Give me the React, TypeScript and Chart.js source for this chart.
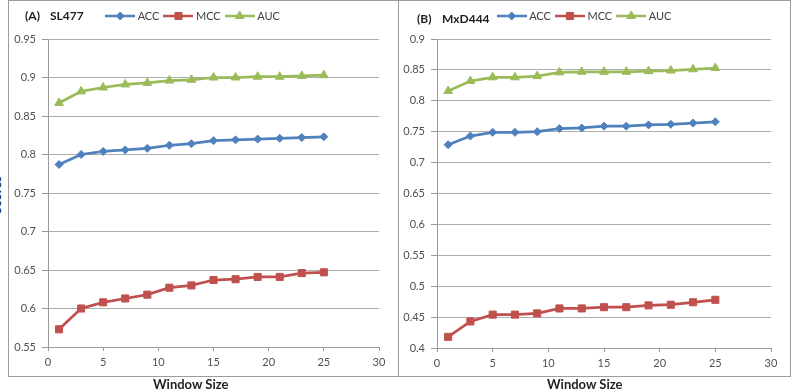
import React, { useEffect, useRef } from 'react';
import { Chart, registerables } from 'chart.js';

Chart.register(...registerables);

// Window sizes evaluated (x axis)
const windowSizes = [1, 3, 5, 7, 9, 11, 13, 15, 17, 19, 21, 23, 25];

// (A) SL477
const accSL477 = [0.787, 0.800, 0.804, 0.806, 0.808, 0.812, 0.814, 0.818, 0.819, 0.820, 0.821, 0.822, 0.823];
const mccSL477 = [0.573, 0.600, 0.608, 0.613, 0.618, 0.627, 0.630, 0.637, 0.638, 0.641, 0.641, 0.646, 0.647];
const aucSL477 = [0.867, 0.882, 0.887, 0.891, 0.893, 0.896, 0.897, 0.900, 0.900, 0.901, 0.901, 0.902, 0.903];

// (B) MxD444
const accMxD444 = [0.729, 0.743, 0.749, 0.749, 0.750, 0.755, 0.756, 0.759, 0.759, 0.761, 0.762, 0.764, 0.766];
const mccMxD444 = [0.418, 0.443, 0.454, 0.454, 0.456, 0.464, 0.464, 0.466, 0.466, 0.469, 0.470, 0.474, 0.478];
const aucMxD444 = [0.816, 0.832, 0.838, 0.838, 0.840, 0.846, 0.847, 0.847, 0.847, 0.848, 0.849, 0.851, 0.853];

const seriesNames = ['ACC', 'MCC', 'AUC'];
const seriesColors = ['#4F81BD', '#C0504D', '#9BBB59'];
const seriesMarkers = ['rectRot', 'rect', 'triangle'];
const markerRadius = [4, 5, 5];

const FONT = 'Lato, "Open Sans", sans-serif';
const TICK_COLOR = '#505050';

function drawMarker(g: CanvasRenderingContext2D, style: string, x: number, y: number, r: number) {
  g.beginPath();
  if (style === 'rectRot') {
    g.moveTo(x - r, y);
    g.lineTo(x, y - r);
    g.lineTo(x + r, y);
    g.lineTo(x, y + r);
  } else if (style === 'rect') {
    const s = r * Math.SQRT1_2;
    g.rect(x - s, y - s, 2 * s, 2 * s);
  } else {
    g.moveTo(x, y - r);
    g.lineTo(x + r * 0.866, y + r / 2);
    g.lineTo(x - r * 0.866, y + r / 2);
  }
  g.closePath();
  g.fill();
  g.stroke();
}

function makeLegendIcon(i: number): HTMLCanvasElement {
  const c = document.createElement('canvas');
  c.width = 30;
  c.height = 14;
  const g = c.getContext('2d')!;
  g.strokeStyle = seriesColors[i];
  g.fillStyle = seriesColors[i];
  g.lineWidth = 2.5;
  g.beginPath();
  g.moveTo(0, 7);
  g.lineTo(30, 7);
  g.stroke();
  g.lineWidth = 1;
  drawMarker(g, seriesMarkers[i], 15, 7, markerRadius[i]);
  return c;
}

const fmt = (v: number | string) => String(+Number(v).toFixed(2));

type PanelProps = {
  values: number[][];
  yMin: number;
  yMax: number;
  left: number;
  width: number;
  yAxisWidth: number;
  xAxisHeight: number;
  rightPad: number;
};

function ScorePanel({ values, yMin, yMax, left, width, yAxisWidth, xAxisHeight, rightPad }: PanelProps) {
  const ref = useRef<HTMLCanvasElement>(null);
  const height = 376;

  useEffect(() => {
    const icons = seriesNames.map((_, i) => makeLegendIcon(i));
    const chart = new Chart(ref.current!, {
      type: 'line',
      data: {
        datasets: seriesNames.map((name, i) => ({
          label: name,
          data: windowSizes.map((x, k) => ({ x, y: values[i][k] })),
          borderColor: seriesColors[i],
          backgroundColor: seriesColors[i],
          borderWidth: 2.75,
          pointStyle: seriesMarkers[i] as any,
          pointRadius: markerRadius[i],
          pointBorderWidth: 1,
          tension: 0,
          fill: false,
        })),
      },
      options: {
        responsive: false,
        animation: false,
        events: [],
        layout: { padding: { top: 2.5, right: rightPad, bottom: 0, left: 0 } },
        plugins: {
          tooltip: { enabled: false },
          title: {
            display: true,
            text: '',
            weight: 500,
            font: { size: 1, lineHeight: 1 },
            padding: { top: 0, bottom: 6.5 },
          } as any,
          legend: {
            display: true,
            position: 'top',
            labels: {
              usePointStyle: true,
              pointStyleWidth: 24,
              padding: 7,
              color: '#404040',
              font: { family: FONT, size: 11 },
              generateLabels: () =>
                seriesNames.map((name, i) => ({
                  text: name,
                  pointStyle: icons[i] as any,
                  fillStyle: seriesColors[i],
                  strokeStyle: seriesColors[i],
                  lineWidth: 0,
                  hidden: false,
                  datasetIndex: i,
                  fontColor: '#404040',
                })),
            },
          },
        },
        scales: {
          x: {
            type: 'linear',
            min: 0,
            max: 30,
            afterFit: (s: any) => {
              s.height = xAxisHeight;
            },
            ticks: {
              stepSize: 5,
              padding: 5,
              color: TICK_COLOR,
              font: { family: FONT, size: 11 },
            },
            grid: {
              drawOnChartArea: false,
              drawTicks: true,
              tickLength: 4,
              tickColor: '#9a9a9a',
            },
            border: { display: true, color: '#9a9a9a', width: 1 },
          },
          y: {
            type: 'linear',
            min: yMin,
            max: yMax,
            afterFit: (s: any) => {
              s.width = yAxisWidth;
            },
            ticks: {
              stepSize: 0.05,
              padding: 6,
              autoSkip: false,
              color: TICK_COLOR,
              font: { family: FONT, size: 11 },
              callback: (v: any) => fmt(v),
            },
            grid: {
              color: '#adadad',
              lineWidth: 1,
              drawTicks: true,
              tickLength: 6,
              tickColor: '#9a9a9a',
            },
            border: { display: true, color: '#9a9a9a', width: 1 },
          },
        },
      },
    });
    return () => chart.destroy();
  }, []);

  return (
    <canvas
      ref={ref}
      width={width}
      height={height}
      style={{ position: 'absolute', left, top: 1, width, height }}
    />
  );
}

const boxStyle = (left: number, width: number): React.CSSProperties => ({
  position: 'absolute',
  left,
  top: 0,
  width,
  height: 377,
  border: '1px solid #9c9c9c',
  boxSizing: 'border-box',
});

const labelStyle = (left: number, top: number): React.CSSProperties => ({
  position: 'absolute',
  left,
  top,
  fontFamily: FONT,
  fontWeight: 700,
  fontSize: 12,
  lineHeight: '14px',
  color: '#1f1f1f',
  whiteSpace: 'nowrap',
});

const axisTitleStyle = (left: number): React.CSSProperties => ({
  position: 'absolute',
  left,
  top: 376,
  fontFamily: FONT,
  fontWeight: 700,
  fontSize: 13,
  lineHeight: '16px',
  color: '#1f1f1f',
  whiteSpace: 'nowrap',
});

export default function App() {
  return (
    <div
      style={{
        position: 'fixed',
        left: 0,
        top: 0,
        width: 794,
        height: 389,
        overflow: 'hidden',
        background: '#ffffff',
      }}
    >
      <div style={boxStyle(8, 391)} />
      <div style={boxStyle(398, 393)} />

      <ScorePanel
        values={[accSL477, mccSL477, aucSL477]}
        yMin={0.55}
        yMax={0.95}
        left={9}
        width={388}
        yAxisWidth={39}
        xAxisHeight={30}
        rightPad={18}
      />
      <ScorePanel
        values={[accMxD444, mccMxD444, aucMxD444]}
        yMin={0.4}
        yMax={0.9}
        left={400}
        width={389}
        yAxisWidth={37}
        xAxisHeight={29}
        rightPad={18}
      />

      <span style={labelStyle(25, 9)}>(A)</span>
      <span style={labelStyle(50, 9)}>SL477</span>
      <span style={labelStyle(417, 12)}>(B)</span>
      <span style={labelStyle(442, 12)}>MxD444</span>

      <div style={axisTitleStyle(153)}>Window Size</div>
      <div style={axisTitleStyle(547)}>Window Size</div>

      <div
        style={{
          position: 'absolute',
          left: -29,
          top: 188,
          width: 50,
          textAlign: 'center',
          fontFamily: FONT,
          fontWeight: 700,
          fontSize: 13,
          lineHeight: '14px',
          color: '#1f1f1f',
          transform: 'rotate(-90deg)',
          transformOrigin: 'center',
          whiteSpace: 'nowrap',
        }}
      >
        Scores
      </div>
    </div>
  );
}
